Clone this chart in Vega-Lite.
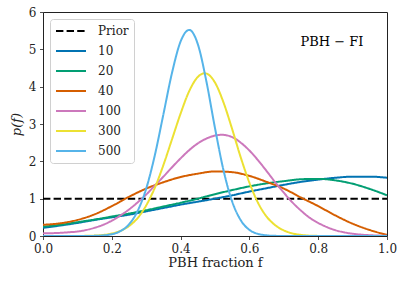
{
  "$schema": "https://vega.github.io/schema/vega-lite/v6.json",
  "width": 344,
  "height": 224,
  "autosize": {"type": "none"},
  "padding": {"left": 43, "top": 12, "right": 17, "bottom": 46},
  "background": "white",
  "datasets": {
    "curves": [
      {"f": 0, "p": 1, "s": "Prior"}, {"f": 1, "p": 1, "s": "Prior"},

      {"f": 0, "p": 0.22, "s": "10"}, {"f": 0.05, "p": 0.28, "s": "10"}, {"f": 0.1, "p": 0.35, "s": "10"}, {"f": 0.15, "p": 0.43, "s": "10"}, {"f": 0.2, "p": 0.50, "s": "10"}, {"f": 0.25, "p": 0.57, "s": "10"}, {"f": 0.3, "p": 0.66, "s": "10"}, {"f": 0.35, "p": 0.75, "s": "10"}, {"f": 0.4, "p": 0.84, "s": "10"}, {"f": 0.45, "p": 0.92, "s": "10"}, {"f": 0.5, "p": 1.00, "s": "10"}, {"f": 0.55, "p": 1.09, "s": "10"}, {"f": 0.6, "p": 1.19, "s": "10"}, {"f": 0.65, "p": 1.28, "s": "10"}, {"f": 0.7, "p": 1.37, "s": "10"}, {"f": 0.75, "p": 1.45, "s": "10"}, {"f": 0.8, "p": 1.51, "s": "10"}, {"f": 0.85, "p": 1.56, "s": "10"}, {"f": 0.9, "p": 1.59, "s": "10"}, {"f": 0.95, "p": 1.59, "s": "10"}, {"f": 1.0, "p": 1.56, "s": "10"},

      {"f": 0, "p": 0.25, "s": "20"}, {"f": 0.05, "p": 0.30, "s": "20"}, {"f": 0.1, "p": 0.37, "s": "20"}, {"f": 0.15, "p": 0.44, "s": "20"}, {"f": 0.2, "p": 0.52, "s": "20"}, {"f": 0.25, "p": 0.60, "s": "20"}, {"f": 0.3, "p": 0.69, "s": "20"}, {"f": 0.35, "p": 0.79, "s": "20"}, {"f": 0.4, "p": 0.89, "s": "20"}, {"f": 0.45, "p": 1.00, "s": "20"}, {"f": 0.5, "p": 1.12, "s": "20"}, {"f": 0.55, "p": 1.23, "s": "20"}, {"f": 0.6, "p": 1.33, "s": "20"}, {"f": 0.65, "p": 1.41, "s": "20"}, {"f": 0.7, "p": 1.47, "s": "20"}, {"f": 0.75, "p": 1.52, "s": "20"}, {"f": 0.8, "p": 1.53, "s": "20"}, {"f": 0.85, "p": 1.49, "s": "20"}, {"f": 0.9, "p": 1.40, "s": "20"}, {"f": 0.95, "p": 1.26, "s": "20"}, {"f": 1.0, "p": 1.09, "s": "20"},

      {"f": 0, "p": 0.30, "s": "40"}, {"f": 0.05, "p": 0.34, "s": "40"}, {"f": 0.1, "p": 0.43, "s": "40"}, {"f": 0.15, "p": 0.58, "s": "40"}, {"f": 0.2, "p": 0.80, "s": "40"}, {"f": 0.25, "p": 1.05, "s": "40"}, {"f": 0.3, "p": 1.27, "s": "40"}, {"f": 0.35, "p": 1.44, "s": "40"}, {"f": 0.4, "p": 1.58, "s": "40"}, {"f": 0.45, "p": 1.67, "s": "40"}, {"f": 0.5, "p": 1.73, "s": "40"}, {"f": 0.55, "p": 1.71, "s": "40"}, {"f": 0.6, "p": 1.61, "s": "40"}, {"f": 0.65, "p": 1.45, "s": "40"}, {"f": 0.7, "p": 1.27, "s": "40"}, {"f": 0.75, "p": 1.03, "s": "40"}, {"f": 0.8, "p": 0.80, "s": "40"}, {"f": 0.85, "p": 0.55, "s": "40"}, {"f": 0.9, "p": 0.33, "s": "40"}, {"f": 0.95, "p": 0.16, "s": "40"}, {"f": 1.0, "p": 0.03, "s": "40"},

      {"f": 0, "p": 0.07, "s": "100"}, {"f": 0.025, "p": 0.075, "s": "100"}, {"f": 0.05, "p": 0.085, "s": "100"}, {"f": 0.075, "p": 0.10, "s": "100"}, {"f": 0.1, "p": 0.12, "s": "100"}, {"f": 0.125, "p": 0.16, "s": "100"}, {"f": 0.15, "p": 0.22, "s": "100"}, {"f": 0.175, "p": 0.30, "s": "100"}, {"f": 0.2, "p": 0.41, "s": "100"}, {"f": 0.225, "p": 0.55, "s": "100"}, {"f": 0.25, "p": 0.71, "s": "100"}, {"f": 0.275, "p": 0.90, "s": "100"}, {"f": 0.3, "p": 1.11, "s": "100"}, {"f": 0.325, "p": 1.35, "s": "100"}, {"f": 0.35, "p": 1.59, "s": "100"}, {"f": 0.375, "p": 1.84, "s": "100"}, {"f": 0.4, "p": 2.08, "s": "100"}, {"f": 0.425, "p": 2.30, "s": "100"}, {"f": 0.45, "p": 2.48, "s": "100"}, {"f": 0.475, "p": 2.61, "s": "100"}, {"f": 0.5, "p": 2.69, "s": "100"}, {"f": 0.52, "p": 2.71, "s": "100"}, {"f": 0.55, "p": 2.65, "s": "100"}, {"f": 0.575, "p": 2.50, "s": "100"}, {"f": 0.6, "p": 2.29, "s": "100"}, {"f": 0.625, "p": 2.03, "s": "100"}, {"f": 0.65, "p": 1.74, "s": "100"}, {"f": 0.675, "p": 1.44, "s": "100"}, {"f": 0.7, "p": 1.16, "s": "100"}, {"f": 0.725, "p": 0.90, "s": "100"}, {"f": 0.75, "p": 0.68, "s": "100"}, {"f": 0.775, "p": 0.49, "s": "100"}, {"f": 0.8, "p": 0.35, "s": "100"}, {"f": 0.825, "p": 0.24, "s": "100"}, {"f": 0.85, "p": 0.155, "s": "100"}, {"f": 0.875, "p": 0.099, "s": "100"}, {"f": 0.9, "p": 0.061, "s": "100"}, {"f": 0.925, "p": 0.036, "s": "100"}, {"f": 0.95, "p": 0.021, "s": "100"}, {"f": 0.975, "p": 0.011, "s": "100"}, {"f": 1.0, "p": 0.006, "s": "100"},

      {"f": 0, "p": 0, "s": "300"}, {"f": 0.05, "p": 0, "s": "300"}, {"f": 0.1, "p": 0.001, "s": "300"}, {"f": 0.125, "p": 0.004, "s": "300"}, {"f": 0.15, "p": 0.012, "s": "300"}, {"f": 0.175, "p": 0.028, "s": "300"}, {"f": 0.2, "p": 0.065, "s": "300"}, {"f": 0.225, "p": 0.136, "s": "300"}, {"f": 0.25, "p": 0.266, "s": "300"}, {"f": 0.275, "p": 0.48, "s": "300"}, {"f": 0.3, "p": 0.82, "s": "300"}, {"f": 0.325, "p": 1.29, "s": "300"}, {"f": 0.35, "p": 1.90, "s": "300"}, {"f": 0.375, "p": 2.59, "s": "300"}, {"f": 0.4, "p": 3.28, "s": "300"}, {"f": 0.425, "p": 3.88, "s": "300"}, {"f": 0.45, "p": 4.26, "s": "300"}, {"f": 0.47, "p": 4.36, "s": "300"}, {"f": 0.5, "p": 4.11, "s": "300"}, {"f": 0.525, "p": 3.57, "s": "300"}, {"f": 0.55, "p": 2.86, "s": "300"}, {"f": 0.575, "p": 2.10, "s": "300"}, {"f": 0.6, "p": 1.43, "s": "300"}, {"f": 0.625, "p": 0.89, "s": "300"}, {"f": 0.65, "p": 0.52, "s": "300"}, {"f": 0.675, "p": 0.29, "s": "300"}, {"f": 0.7, "p": 0.15, "s": "300"}, {"f": 0.725, "p": 0.07, "s": "300"}, {"f": 0.75, "p": 0.03, "s": "300"}, {"f": 0.775, "p": 0.01, "s": "300"}, {"f": 0.8, "p": 0.003, "s": "300"}, {"f": 0.85, "p": 0, "s": "300"}, {"f": 1.0, "p": 0, "s": "300"},

      {"f": 0, "p": 0, "s": "500"}, {"f": 0.05, "p": 0, "s": "500"}, {"f": 0.1, "p": 0.0005, "s": "500"}, {"f": 0.125, "p": 0.001, "s": "500"}, {"f": 0.15, "p": 0.004, "s": "500"}, {"f": 0.175, "p": 0.016, "s": "500"}, {"f": 0.2, "p": 0.048, "s": "500"}, {"f": 0.225, "p": 0.13, "s": "500"}, {"f": 0.25, "p": 0.31, "s": "500"}, {"f": 0.275, "p": 0.67, "s": "500"}, {"f": 0.3, "p": 1.27, "s": "500"}, {"f": 0.325, "p": 2.16, "s": "500"}, {"f": 0.35, "p": 3.26, "s": "500"}, {"f": 0.375, "p": 4.37, "s": "500"}, {"f": 0.4, "p": 5.21, "s": "500"}, {"f": 0.425, "p": 5.52, "s": "500"}, {"f": 0.45, "p": 5.14, "s": "500"}, {"f": 0.475, "p": 4.14, "s": "500"}, {"f": 0.5, "p": 2.89, "s": "500"}, {"f": 0.525, "p": 1.75, "s": "500"}, {"f": 0.55, "p": 0.92, "s": "500"}, {"f": 0.575, "p": 0.42, "s": "500"}, {"f": 0.6, "p": 0.164, "s": "500"}, {"f": 0.625, "p": 0.056, "s": "500"}, {"f": 0.65, "p": 0.017, "s": "500"}, {"f": 0.675, "p": 0.004, "s": "500"}, {"f": 0.7, "p": 0.001, "s": "500"}, {"f": 0.75, "p": 0, "s": "500"}, {"f": 1.0, "p": 0, "s": "500"}
    ],
    "labels": [{"f": 0.84, "p": 5.2, "t": "PBH − FI"}]
  },
  "encoding": {
    "x": {"field": "f", "type": "quantitative",
          "scale": {"domain": [0, 1], "nice": false, "zero": false},
          "axis": {"values": [0, 0.2, 0.4, 0.6, 0.8, 1.0], "format": ".1f", "title": "PBH fraction f"}},
    "y": {"field": "p", "type": "quantitative",
          "scale": {"domain": [0, 6], "nice": false},
          "axis": {"values": [0, 1, 2, 3, 4, 5, 6], "format": "d", "title": "p(f)", "titleFontStyle": "italic", "labelOverlap": false}}
  },
  "layer": [
    {
      "data": {"name": "curves"},
      "mark": {"type": "line", "strokeWidth": 2, "interpolate": "monotone", "clip": true},
      "encoding": {
        "color": {"field": "s", "type": "nominal", "title": null,
                  "scale": {"domain": ["Prior", "10", "20", "40", "100", "300", "500"],
                            "range": ["#000000", "#0173b2", "#029e73", "#d55e00", "#cc78bc", "#ece133", "#56b4e9"]}},
        "strokeDash": {"field": "s", "type": "nominal", "title": null,
                  "scale": {"domain": ["Prior", "10", "20", "40", "100", "300", "500"],
                            "range": [[7.4, 3.2], [1, 0], [1, 0], [1, 0], [1, 0], [1, 0], [1, 0]]}}
      }
    },
    {
      "data": {"name": "labels"},
      "mark": {"type": "text", "font": "DejaVu Serif", "fontSize": 13, "color": "#000", "align": "center", "baseline": "middle"},
      "encoding": {
        "text": {"field": "t"}
      }
    }
  ],
  "config": {
    "view": {"stroke": "#222", "strokeWidth": 1},
    "axis": {
      "grid": false,
      "domain": false,
      "tickColor": "#222",
      "tickSize": 3.5,
      "tickWidth": 0.8,
      "labelFont": "DejaVu Serif",
      "labelFontSize": 12,
      "labelColor": "#222",
      "labelPadding": 3.5,
      "labelOverlap": false,
      "labelFlush": false,
      "titleFont": "DejaVu Serif",
      "titleFontSize": 13,
      "titleFontWeight": "normal",
      "titleColor": "#222"
    },
    "axisX": {"titlePadding": 2},
    "axisY": {"titlePadding": 5},
    "legend": {
      "orient": "top-left",
      "offset": 7,
      "padding": 5,
      "fillColor": "white",
      "strokeColor": "#d0d0d0",
      "cornerRadius": 3,
      "symbolType": "stroke",
      "symbolSize": 900,
      "symbolStrokeWidth": 2,
      "labelFont": "DejaVu Serif",
      "labelFontSize": 12,
      "labelColor": "#222",
      "labelOffset": 11,
      "clipHeight": 14,
      "rowPadding": 6
    }
  }
}
